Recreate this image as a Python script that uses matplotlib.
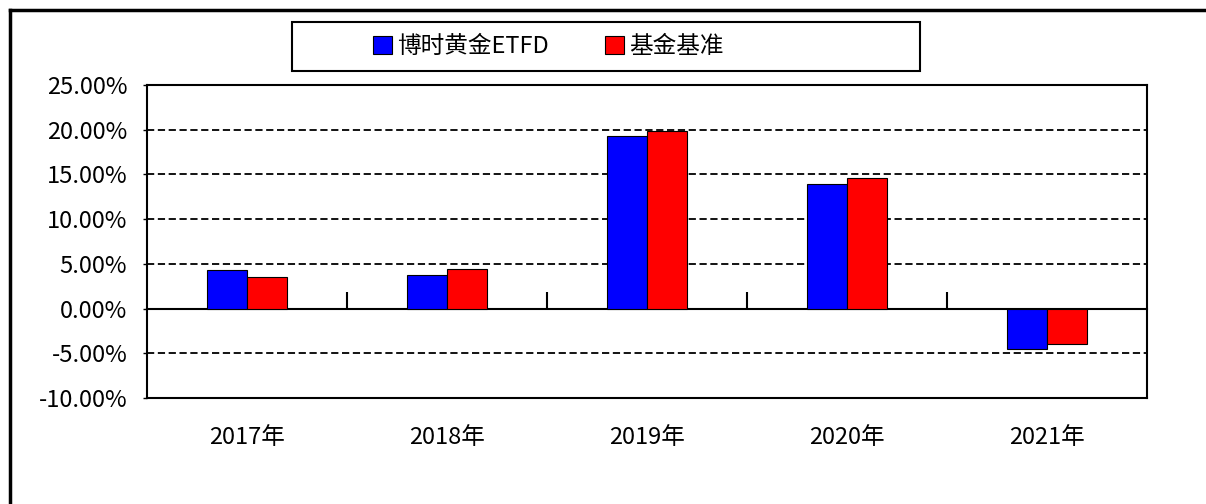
import matplotlib
matplotlib.use("Agg")
import matplotlib.pyplot as plt
import numpy as np
from matplotlib.patches import Rectangle
from matplotlib.lines import Line2D

plt.rcParams['font.family'] = ['Noto Sans CJK SC', 'DejaVu Sans']

categories = ["2017年", "2018年", "2019年", "2020年", "2021年"]
fund = [4.26, 3.78, 19.33, 13.89, -4.56]
bench = [3.48, 4.48, 19.89, 14.63, -4.00]
series_names = ["博时黄金ETFD", "基金基准"]
yticks = [-10, -5, 0, 5, 10, 15, 20, 25]

W, H = 1206, 504
fig = plt.figure(figsize=(W / 100, H / 100), dpi=100)
ax = fig.add_axes([146.7 / W, 1 - 398 / H, 1000 / W, (398 - 85) / H])

x = np.arange(len(categories))
bw = 0.2
b1 = ax.bar(x - bw / 2, fund, bw, color="#0000FF", edgecolor="#000000", linewidth=0.8, zorder=3, label=series_names[0])
b2 = ax.bar(x + bw / 2, bench, bw, color="#FF0000", edgecolor="#000000", linewidth=0.8, zorder=3, label=series_names[1])

ax.set_xlim(-0.5, len(categories) - 0.5)
ax.set_ylim(yticks[0], yticks[-1])
ax.set_yticks(yticks)
ax.set_yticklabels([f"{v:.2f}%" for v in yticks])
ax.set_xticks(x)
ax.set_xticklabels(categories)
ax.tick_params(axis='x', length=0, pad=20, labelsize=17)
ax.tick_params(axis='y', length=3, width=1, direction='out', pad=11, labelsize=17)

for v in yticks[1:-1]:
    if v != 0:
        ax.axhline(v, color="black", linestyle=(0, (4, 2)), linewidth=1.3, zorder=1)

for s in ax.spines.values():
    s.set_linewidth(1.5)

# zero line with boundary ticks pointing up
ymin, ymax = ax.get_ylim()
sec = ax.secondary_xaxis((0 - ymin) / (ymax - ymin))
sec.set_xticks(x[:-1] + 0.5)
sec.set_xticklabels([])
sec.tick_params(axis='x', direction='in', length=12, width=1.5)
sec.spines['bottom'].set_linewidth(1.5)
sec.spines['top'].set_visible(False)

# legend box
fig.patches.append(Rectangle((292 / W, 1 - 71 / H), 628 / W, 49 / H, transform=fig.transFigure,
                             fill=False, edgecolor="black", linewidth=1.5))
leg = fig.legend(handles=[b1, b2], labels=series_names, loc="center left",
                 bbox_to_anchor=(373 / W, 1 - 46.5 / H), ncol=2, frameon=False,
                 fontsize=17, handlelength=0.8, handleheight=0.8, handletextpad=0.2,
                 columnspacing=2.4, borderpad=0, borderaxespad=0)

# outer frame (top and left)
fig.lines.append(Line2D([9.5 / W, 1.0], [1 - 10 / H, 1 - 10 / H], transform=fig.transFigure, color="black", linewidth=2.5))
fig.lines.append(Line2D([9.5 / W, 9.5 / W], [0, 1 - 10 / H], transform=fig.transFigure, color="black", linewidth=2.5))

fig.savefig("out.png", dpi=100)
